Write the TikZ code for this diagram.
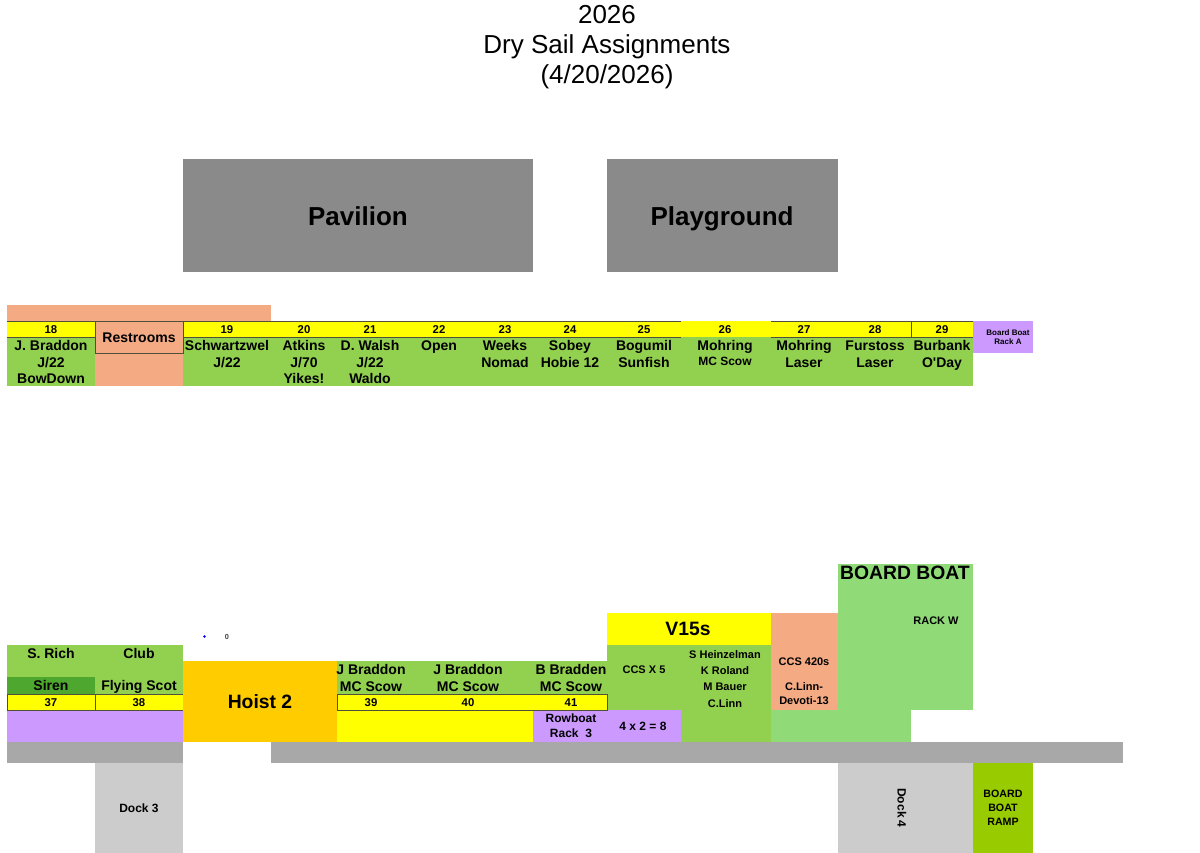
\documentclass[tikz,border=0pt]{standalone}
\usepackage{fontspec}
\newfontfamily\labfont{Liberation Sans}
\definecolor{slipgreen}{HTML}{92D050}
\definecolor{darkslip}{HTML}{4EA72E}
\definecolor{rackgreen}{HTML}{90DB78}
\definecolor{salmon}{HTML}{F4AB84}
\definecolor{rackpurple}{HTML}{CC99FF}
\definecolor{roadgray}{HTML}{A8A8A8}
\definecolor{dockgray}{HTML}{CCCCCC}
\definecolor{bldggray}{HTML}{8A8A8A}
\definecolor{hoistorange}{HTML}{FFCC00}
\definecolor{rampgreen}{HTML}{99CC00}
\definecolor{edgedark}{HTML}{50503A}
\definecolor{stripyellow}{HTML}{FFFF00}
\tikzset{
 nametext/.style={inner sep=0pt,align=center,font=\labfont\bfseries\fontsize{10.5}{12.25}\selectfont},
 numtext/.style={inner sep=0pt,anchor=base,font=\labfont\bfseries\fontsize{8.5}{10}\selectfont},
 smalltext/.style={inner sep=0pt,align=center,font=\labfont\bfseries\fontsize{8.25}{12.25}\selectfont},
 midtext/.style={inner sep=0pt,align=center,font=\labfont\bfseries\fontsize{9}{11}\selectfont},
 bigtext/.style={inner sep=0pt,anchor=base,font=\labfont\bfseries\fontsize{14.5}{16}\selectfont},
 hugetext/.style={inner sep=0pt,anchor=base,font=\labfont\bfseries\fontsize{19.5}{22}\selectfont},
 edge/.style={draw=edgedark,line width=0.6pt}
}
\begin{document}
\begin{tikzpicture}[x=0.75pt,y=-0.75pt]
 \useasboundingbox (0,0) rectangle (1200,853);
 \node[inner sep=0pt,align=center,font=\labfont\fontsize{19.5}{22.5}\selectfont] (title) at (607,47) {2026\\Dry Sail Assignments\\(4/20/2026)\hspace{5pt}};
 % buildings
 \fill[bldggray] (183,159) rectangle (533,272);
 \fill[bldggray] (607,159) rectangle (838,272);
 \node[hugetext] (pavilion) at (358,225) {Pavilion};
 \node[hugetext] (playground) at (722,225) {Playground};
 % top row
 \fill[salmon] (7,305) rectangle (271,321);
 \fill[slipgreen] (7,337) rectangle (973,386);
 \fill[stripyellow] (7,321) rectangle (973,337);
 \fill[salmon] (95,321) rectangle (183,386);
 \draw[edge] (7,321) -- (681,321);
 \draw[edge] (7,337) -- (95,337);
 \draw[edge] (183,337) -- (681,337);
 \draw[edge] (771,321) -- (973,321) -- (973,337) -- (771,337);
 \draw[edge] (911,321) -- (911,337);
 \draw[edge] (95,321) rectangle (183,353);
 \node[nametext,anchor=base] (rest) at (139,342) {Restrooms};
 \foreach \n/\x/\who in {18/51/{J. Braddon\\J/22\\BowDown},19/227/{Schwartzwel\\J/22},20/304/{Atkins\\J/70\\Yikes!},
   21/370/{D. Walsh\\J/22\\Waldo},22/439/{Open},23/505/{Weeks\\Nomad},24/570/{Sobey\\Hobie 12},25/644/{Bogumil\\Sunfish},
   27/804/{Mohring\\Laser},28/875/{Furstoss\\Laser},29/942/{Burbank\\O'Day}}
 {
  \node[numtext] (num\n) at (\x,333) {\n};
  \node[nametext,anchor=north] (slip\n) at (\x,339) {\strut\who};
 }
 \node[numtext] (num26) at (725,333) {26};
 \node[nametext,anchor=north] (slip26) at (725,339) {\strut Mohring};
 \node[midtext,anchor=base] (type26) at (725,365) {MC Scow};
 \fill[rackpurple] (973,321) rectangle (1033,353);
 \node[inner sep=0pt,align=center,font=\labfont\bfseries\fontsize{6}{7}\selectfont] (rackA) at (1008,337) {Board Boat\\Rack A};
 % bottom row
 \fill[slipgreen] (7,645) rectangle (183,694);
 \fill[darkslip] (7,677) rectangle (95,694);
 \fill[stripyellow] (7,694) rectangle (183,710);
 \fill[rackpurple] (7,710) rectangle (183,742);
 \draw[edge] (7,694) rectangle (183,710);
 \draw[edge] (95,694) -- (95,710);
 \fill[hoistorange] (183,661) rectangle (337,742);
 \fill[slipgreen] (337,661) rectangle (607,694);
 \fill[stripyellow] (337,694) rectangle (607,742);
 \fill[rackpurple] (533,710) rectangle (681,742);
 \fill[slipgreen] (607,645) rectangle (771,710);
 \fill[slipgreen] (681,710) rectangle (771,742);
 \fill[stripyellow] (607,613) rectangle (771,645);
 \draw[edge] (337,694) rectangle (607,710);
 \fill[rackgreen] (838,564) rectangle (973,710);
 \fill[rackgreen] (771,710) rectangle (911,742);
 \fill[salmon] (771,613) rectangle (838,710);
 % roads and docks
 \fill[roadgray] (7,742) rectangle (183,763);
 \fill[roadgray] (271,742) rectangle (1123,763);
 \fill[dockgray] (95,763) rectangle (183,853);
 \fill[dockgray] (838,763) rectangle (973,853);
 \fill[rampgreen] (973,763) rectangle (1033,853);
 % marks above the hoist
 \fill[blue] (204.5,636.5) circle (1pt);
 \node[inner sep=0pt,text=black!75,font=\labfont\bfseries\fontsize{5.5}{6}\selectfont] (zero) at (227,637) {0};
 \foreach \n/\x/\lab in {37/51/S. Rich,38/139/Club}
 {
  \node[numtext] (num\n) at (\x,706) {\n};
  \node[nametext,anchor=base] (slip\n) at (\x,658) {\lab};
 }
 \node[nametext,anchor=base] (siren) at (51,690) {Siren};
 \node[nametext,anchor=base] (scot) at (139,690) {Flying Scot};
 \foreach \n/\x/\lab in {39/371/J Braddon,40/468/J Braddon,41/571/B Bradden}
 {
  \node[numtext] (num\n) at (\x,706) {\n};
  \node[nametext,anchor=north] (slip\n) at (\x,663) {\strut\lab\\MC Scow};
 }
 \node[bigtext] (hoist) at (260,708) {Hoist 2};
 \node[bigtext] (vfifteen) at (688,635) {V15s};
 \node[bigtext] (board) at (905,579) {BOARD BOAT};
 \node[smalltext,anchor=base] (rackW) at (936,624) {RACK W};
 \node[smalltext,anchor=base] (ccs) at (644,673) {CCS X 5};
 \node[smalltext,anchor=north] (skippers) at (725,646.5) {\strut S Heinzelman\\K Roland\\M Bauer\\C.Linn};
 \node[midtext,anchor=base,font=\labfont\bfseries\fontsize{8.25}{10.5}\selectfont] (ccsfour) at (804,665) {CCS 420s};
 \node[midtext,font=\labfont\bfseries\fontsize{8.25}{10.5}\selectfont] (devoti) at (804,694) {C.Linn-\\Devoti-13};
 \node[midtext] (rowboat) at (571,726) {Rowboat\\Rack\ \ 3};
 \node[midtext] (fourbytwo) at (643,726) {4 x 2 = 8};
 \node[midtext] (dockthree) at (139,808) {Dock 3};
 \node[midtext,rotate=-90] (dockfour) at (902,808) {Dock 4};
 \node[midtext,font=\labfont\bfseries\fontsize{8}{10.5}\selectfont] (ramp) at (1003,808) {BOARD\\BOAT\\RAMP};
\end{tikzpicture}
\end{document}
